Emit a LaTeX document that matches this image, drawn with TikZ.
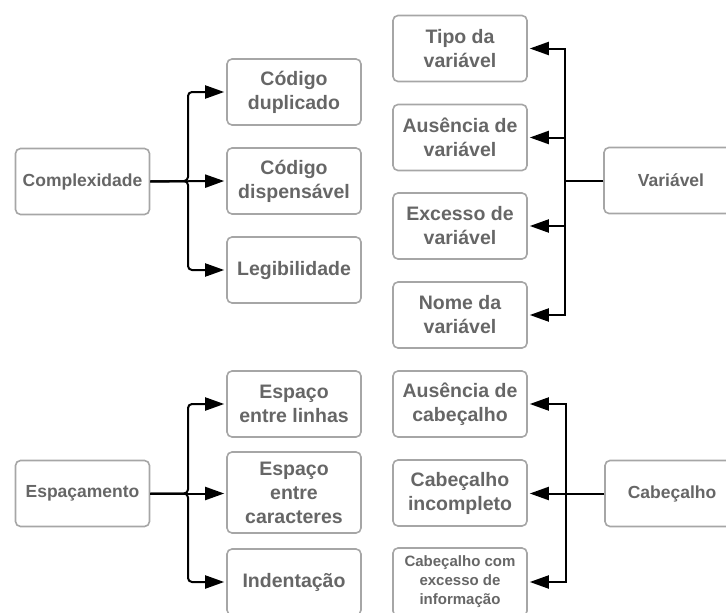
\documentclass[tikz,border=0pt]{standalone}
\usepackage{fontspec}
\setmainfont{Liberation Sans}
\usetikzlibrary{arrows.meta}
\definecolor{txt}{HTML}{666666}
\definecolor{bd}{HTML}{A6A6A6}
\begin{document}
\begin{tikzpicture}[x=1pt,y=-1pt,
 box/.style={draw=bd, line width=1.6pt, rounded corners=5pt, minimum width=134pt, minimum height=66pt, align=center, text=txt, font=\bfseries\fontsize{19.5}{24}\selectfont, inner sep=0pt},
 rootbox/.style={box, font=\bfseries\fontsize{17.5}{22}\selectfont},
 smallbox/.style={box, font=\bfseries\fontsize{15}{19}\selectfont},
 conn/.style={line width=2pt, -{Triangle[length=19pt,width=13pt]}, shorten >=2pt},
]
\path[use as bounding box] (0,0) rectangle (726,613);
\clip (0,0) rectangle (726,613);

% Complexidade group
\node[rootbox] (cx) at (82.5,181.5) {Complexidade};
\node[box] (cdup) at (294,92) {Código\\duplicado};
\node[box] (cdis) at (294,181) {Código\\dispensável};
\node[box] (leg) at (294,270) {Legibilidade};
\draw[conn, rounded corners=4pt] (cx.east) -- (188,181) |- (cdup.west);
\draw[conn] (cx.east) -- (cdis.west);
\draw[conn, rounded corners=4pt] (cx.east) -- (188,181) |- (leg.west);

% Variavel group
\node[rootbox] (var) at (671,180.5) {Variável};
\node[box] (tipo) at (460,48.5) {Tipo da\\variável};
\node[box] (ausv) at (460,137.5) {Ausência de\\variável};
\node[box] (exv) at (460,226) {Excesso de\\variável};
\node[box] (nome) at (460,315) {Nome da\\variável};
\draw[conn] (var.west) -- (565,180.5) |- (tipo.east);
\draw[conn] (var.west) -- (565,180.5) |- (ausv.east);
\draw[conn] (var.west) -- (565,180.5) |- (exv.east);
\draw[conn] (var.west) -- (565,180.5) |- (nome.east);

% Espacamento group
\node[rootbox] (esp) at (82.5,493.5) {Espaçamento};
\node[box] (elin) at (294,404) {Espaço\\entre linhas};
\node[box, minimum height=81pt] (ecar) at (294,492.5) {Espaço\\entre\\caracteres};
\node[box] (ind) at (294,582) {Indentação};
\draw[conn, rounded corners=4pt] (esp.east) -- (188,493.5) |- (elin.west);
\draw[conn] (esp.east) -- (188,493.5) -- (ecar.west |- esp.east);
\draw[conn, rounded corners=4pt] (esp.east) -- (188,493.5) |- (ind.west);

% Cabecalho group
\node[rootbox] (cab) at (672,493.5) {Cabeçalho};
\node[box] (acab) at (460,404) {Ausência de\\cabeçalho};
\node[box] (cinc) at (460,493) {Cabeçalho\\incompleto};
\node[smallbox, minimum height=68pt] (cexc) at (460,582) {Cabeçalho com\\excesso de\\informação};
\draw[conn] (cab.west) -- (566,493.5) |- (acab.east);
\draw[conn] (cab.west) -- (cinc.east |- cab.west);
\draw[conn] (cab.west) -- (566,493.5) |- (cexc.east);
\end{tikzpicture}
\end{document}
